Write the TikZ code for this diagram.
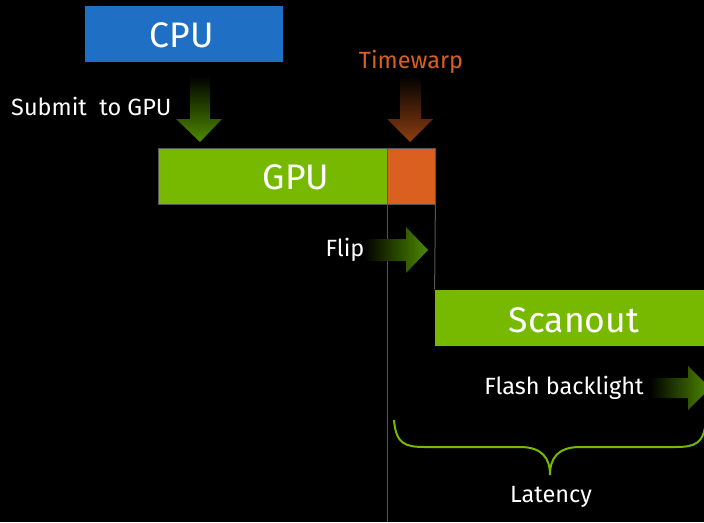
\documentclass[tikz,border=0pt]{standalone}
\usepackage{fontspec}
\setmainfont{Fira Sans}
\definecolor{nvgreen}{HTML}{76B900}
\definecolor{cpublue}{HTML}{1F6FC5}
\definecolor{twor}{HTML}{D9601F}
\definecolor{darrgreen}{HTML}{4F8A00}
\definecolor{darrorange}{HTML}{8F3E12}
\definecolor{vline}{HTML}{555555}
\begin{document}
\begin{tikzpicture}[x=1pt,y=-1pt,
  boxstyle/.style={inner sep=0pt, draw=vline, line width=0.8pt},
  bigtext/.style={text=white, font=\fontsize{35.5}{35.5}\selectfont, inner sep=0pt},
  smalltext/.style={text=white, font=\fontsize{23.5}{23.5}\selectfont, inner sep=0pt},
]
\fill[black] (0,0) rectangle (704,522);
\useasboundingbox (0,0) rectangle (704,522);

% boxes
\node[boxstyle, fill=cpublue, draw=none, minimum width=198pt, minimum height=56pt] (cpu) at (184,34) {};
\node[bigtext] (cput) at (182,35) {CPU};
\node[boxstyle, fill=nvgreen, minimum width=229pt, minimum height=56pt] (gpu) at (272.5,176) {};
\node[bigtext] (gput) at (296,177) {GPU};
\node[boxstyle, fill=twor, minimum width=48pt, minimum height=56pt] (tw) at (411,176) {};
\node[boxstyle, fill=nvgreen, draw=none, minimum width=269pt, minimum height=56pt] (scan) at (569.5,318) {};
\node[bigtext] (scant) at (574,320) {Scanout};

% vertical lines
\draw[vline, line width=1pt] (gpu.south east) -- ++(0,318);
\draw[vline, line width=1pt] (tw.south east) -- (scan.north west);

% labels
\node[smalltext, anchor=west] (submit) at (11,106) {Submit\ \ to GPU};
\node[smalltext, text=twor] (twt) at (411,62) {Timewarp};
\node[smalltext] (flip) at (345,250) {Flip};
\node[smalltext] (flash) at (564,388) {Flash backlight};
\node[smalltext] (lat) at (551,497) {Latency};

% gradient arrows
\shade[top color=black, bottom color=darrgreen]
  (190,76) -- (210,76) -- (210,119) -- (222,119) -- (200,142) -- (176,119) -- (190,119) -- cycle;
\shade[top color=black, bottom color=darrorange]
  (400,76) -- (421,76) -- (421,119) -- (433,119) -- (410,142) -- (387,119) -- (400,119) -- cycle;
\shade[left color=black, right color=darrgreen]
  (364,239) -- (406,239) -- (406,227) -- (428,250) -- (406,273) -- (406,261) -- (364,261) -- cycle;
\shade[left color=black, right color=darrgreen]
  (650,378) -- (688,378) -- (688,366) -- (710,388) -- (688,410) -- (688,398) -- (650,398) -- cycle;

% brace
\draw[nvgreen, line width=2pt]
  (394,420) .. controls (396,444) and (405,447) .. (425,447)
  -- (520,447) .. controls (542,447) and (550,458) .. (550,475)
  .. controls (550,458) and (558,447) .. (580,447)
  -- (675,447) .. controls (695,447) and (704,444) .. (706,420);
\end{tikzpicture}
\end{document}
